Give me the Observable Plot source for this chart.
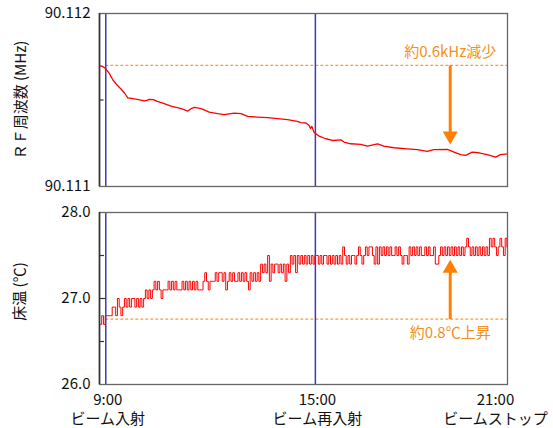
<!DOCTYPE html>
<html>
<head>
<meta charset="utf-8">
<script src="https://cdn.jsdelivr.net/npm/d3@7"></script>
<script src="https://cdn.jsdelivr.net/npm/@observablehq/plot@0.6"></script>
<style>
  body { margin: 0; background: #fff; }
  #chart { width: 553px; height: 428px; }
  #chart svg { display: block; }
</style>
</head>
<body>
<div id="chart"></div>
<script>
// ---------- data ----------
// RF frequency: sample time (decimal hours) and kHz above 90.111 MHz
const rfHours = [8.83, 8.90, 8.99, 9.10, 9.21, 9.33, 9.44, 9.54, 9.63, 9.73, 9.90, 10.10, 10.18, 10.24, 10.36, 10.47, 10.59, 10.87, 11.16, 11.35, 11.44, 11.54, 11.73, 11.96, 12.20, 12.39, 12.68, 12.87, 13.06, 13.35, 13.63, 13.92, 14.20, 14.49, 14.58, 14.73, 14.82, 14.86, 14.90, 14.96, 15.11, 15.30, 15.49, 15.73, 15.82, 16.01, 16.30, 16.49, 16.78, 16.96, 17.25, 17.63, 17.92, 18.20, 18.39, 18.78, 18.97, 19.16, 19.30, 19.49, 19.68, 19.92, 20.16, 20.30, 20.49];
const rfKHzAbove = [0.697, 0.695, 0.683, 0.654, 0.614, 0.585, 0.562, 0.539, 0.512, 0.510, 0.504, 0.495, 0.498, 0.504, 0.502, 0.492, 0.485, 0.465, 0.450, 0.436, 0.450, 0.457, 0.450, 0.430, 0.421, 0.415, 0.424, 0.421, 0.405, 0.401, 0.398, 0.392, 0.386, 0.376, 0.369, 0.367, 0.353, 0.336, 0.347, 0.314, 0.291, 0.276, 0.266, 0.270, 0.257, 0.247, 0.243, 0.233, 0.247, 0.233, 0.224, 0.218, 0.213, 0.203, 0.213, 0.214, 0.199, 0.184, 0.180, 0.199, 0.195, 0.184, 0.170, 0.184, 0.189];

// Floor temperature: readings in tenths of a degree, every 3 minutes from 8:50
const floorStartHour = 8 + 50 / 60;
const floorStepMinutes = 3;
const floorTempTenths = [
  267,268,267,268, 268,268,268, 269,269,268, 270,269,268,269,
  270,269,270,269,270,270,269,270,269,270,269,270,
  271,270,271,270,271,272,
  271,272,271,270,271,271,271,272,271,272,271,272,271,271,271,272,271,272,271,272,271,272,271,272,271,271,271,
  272,273,272,271,272,272,272,
  273,272,273,273,272,273,271,272,273,272,273,272,
  272,273,272,273,272,273,272,271,
  273,272,273,272,273,272,
  274,273,274,273,275,272,274,273,274,274,273,274,273,274,272,274,
  273,275,274,275,273,275,274,275,274,275,274,275,274,275,274,275,
  275,274,275,274,275,275,274,275,274,275,274,275,274,275,274,276,
  275,274,275,274,275,275,274,275,276,275,274,275,276,275,276,276,275,274,
  276,274,276,275,276,275,276,275,276,275,
  275,276,275,276, 275,274,275,275,
  274,276,275,276,275,276,275,276,275, 275, 276,275,276, 275,275,276, 274,274,
  275,276,275,276,275,276,275,276,275,276,275,276,275,276,275,276,277,276,275,276,
  275,276,275,276,275,276,275,276,275,277,276,277,276,275,276,277,276,275,277,276
];

// events and annotations
const beamEventHours = [9, 15];
const xTickTimes = ["9:00", "15:00", "21:00"];
const xTickEvents = ["ビーム入射", "ビーム再入射", "ビームストップ"];
const xTickHours = [9, 15, 20.5];
const rfYTicks = [90.111, 90.112];
const rfMinorTicks = [90.1115];
const tempYTicks = [26, 27, 28];
const tempMajorInner = [27];
const tempMinorTicks = [26.5, 27.5];
const rfStartMHz = 90.1117;
const rfArrowTipMHz = 90.111243;
const tempStartC = 26.76;
const tempArrowTipC = 27.45;
const arrowHour = 18.86;
const rfNote = "約0.6kHz減少";
const tempNote = "約0.8℃上昇";
const rfTitle = "ＲＦ周波数 (MHz)";
const tempTitle = "床温 (℃)";

// ---------- build ----------
const rfData = rfHours.map((h, i) => ({h, v: 90.111 + rfKHzAbove[i] / 1000}));
const tempData = floorTempTenths.map((t, i) => ({h: floorStartHour + i * floorStepMinutes / 60, v: t / 10}));

const W = 553, ML = 99, MR = 46;
const PW = W - ML - MR;
const xDomain = [8.82, 20.5];
const RED = "#ff0000", BLUE = "#3c3cb0", ORANGE = "#ff8000", ORANGE_T = "#f3901e", DASH = "#ff9a3a";
const FONT = "'Noto Sans CJK JP', 'Noto Sans', sans-serif";

function tickRules(values, len) {
  return Plot.ruleY(values, {stroke: "#333", strokeWidth: 1.2, insetRight: PW - len});
}

function arrowMarks(yStart, yTip, down) {
  return [
    Plot.arrow([0], {x1: arrowHour, x2: arrowHour, y1: yStart, y2: yTip, headLength: 0, insetEnd: 11,
      stroke: ORANGE, strokeWidth: 3, strokeLinecap: "butt"}),
    Plot.dot([0], {x: arrowHour, y: yTip, symbol: "triangle", r: 5.6, fill: ORANGE, stroke: "none",
      rotate: down ? 180 : 0, dy: down ? -8.7 : 8.7})
  ];
}

const topChart = Plot.plot({
  width: W, height: 196,
  marginLeft: ML, marginRight: MR, marginTop: 13, marginBottom: 10,
  style: {fontFamily: FONT, fontSize: "15px", color: "#111", background: "#fff", overflow: "visible"},
  x: {domain: xDomain, axis: null},
  y: {domain: [90.111, 90.112], axis: null},
  marks: [
    Plot.ruleY([rfStartMHz], {x1: beamEventHours[0], x2: xDomain[1], stroke: DASH, strokeWidth: 1.1, strokeDasharray: "3,2"}),
    Plot.ruleX(beamEventHours, {stroke: BLUE, strokeWidth: 1.5}),
    Plot.line(rfData, {x: "h", y: "v", stroke: RED, strokeWidth: 1.3}),
    ...arrowMarks(rfStartMHz, rfArrowTipMHz, true),
    Plot.text([rfNote], {x: arrowHour, y: rfStartMHz, dy: -13.5, fill: ORANGE_T, fontSize: 15}),
    Plot.frame({stroke: "#666", strokeWidth: 1.3}),
    Plot.ruleX([xDomain[0]], {stroke: "#333", strokeWidth: 1.6}),
    tickRules(rfMinorTicks, 4.5),
    Plot.axisY({ticks: rfYTicks, tickFormat: d => d.toFixed(3), tickSize: 0, tickPadding: 9, fontSize: 15, label: null, fill: "#111"}),
    Plot.text([rfTitle], {frameAnchor: "left", textAnchor: "middle", lineAnchor: "middle", dx: -78, dy: 0, rotate: -90, fontSize: 15, fill: "#111"})
  ]
});

const bottomChart = Plot.plot({
  width: W, height: 232,
  marginLeft: ML, marginRight: MR, marginTop: 16, marginBottom: 44,
  style: {fontFamily: FONT, fontSize: "15px", color: "#111", background: "#fff", overflow: "visible"},
  x: {domain: xDomain, axis: null},
  y: {domain: [26, 28], axis: null},
  marks: [
    Plot.ruleY([tempStartC], {x1: beamEventHours[0], x2: xDomain[1], stroke: DASH, strokeWidth: 1.1, strokeDasharray: "3,2"}),
    Plot.ruleX(beamEventHours, {stroke: BLUE, strokeWidth: 1.5}),
    Plot.line(tempData, {x: "h", y: "v", curve: "step-after", stroke: RED, strokeWidth: 1}),
    ...arrowMarks(tempStartC, tempArrowTipC, false),
    Plot.text([tempNote], {x: arrowHour, y: tempStartC, dy: 14, fill: ORANGE_T, fontSize: 15}),
    Plot.frame({stroke: "#666", strokeWidth: 1.3}),
    Plot.ruleX([xDomain[0]], {stroke: "#333", strokeWidth: 1.6}),
    tickRules(tempMajorInner, 7),
    tickRules(tempMinorTicks, 5),
    Plot.axisY({ticks: tempYTicks, tickFormat: d => d.toFixed(1), tickSize: 0, tickPadding: 9, fontSize: 15, label: null, fill: "#111"}),
    Plot.text([tempTitle], {frameAnchor: "left", textAnchor: "middle", lineAnchor: "middle", dx: -79, dy: -7, rotate: -90, fontSize: 15, fill: "#111"}),
    Plot.text(xTickHours.slice(0, 2).map((h, i) => ({h, s: xTickTimes[i] + "\n" + xTickEvents[i]})),
      {x: "h", text: "s", frameAnchor: "bottom", textAnchor: "middle", lineAnchor: "top", dy: 7, dx: 2, lineHeight: 1.27, fontSize: 15, fill: "#111"}),
    Plot.text([{h: xTickHours[2], s: xTickTimes[2] + "\n" + xTickEvents[2]}],
      {x: "h", text: "s", frameAnchor: "bottom", textAnchor: "middle", lineAnchor: "top", dy: 7, dx: -12, lineHeight: 1.27, fontSize: 15, fill: "#111"})
  ]
});

const chart = document.getElementById("chart");
chart.appendChild(topChart);
chart.appendChild(bottomChart);
</script>
</body>
</html>
